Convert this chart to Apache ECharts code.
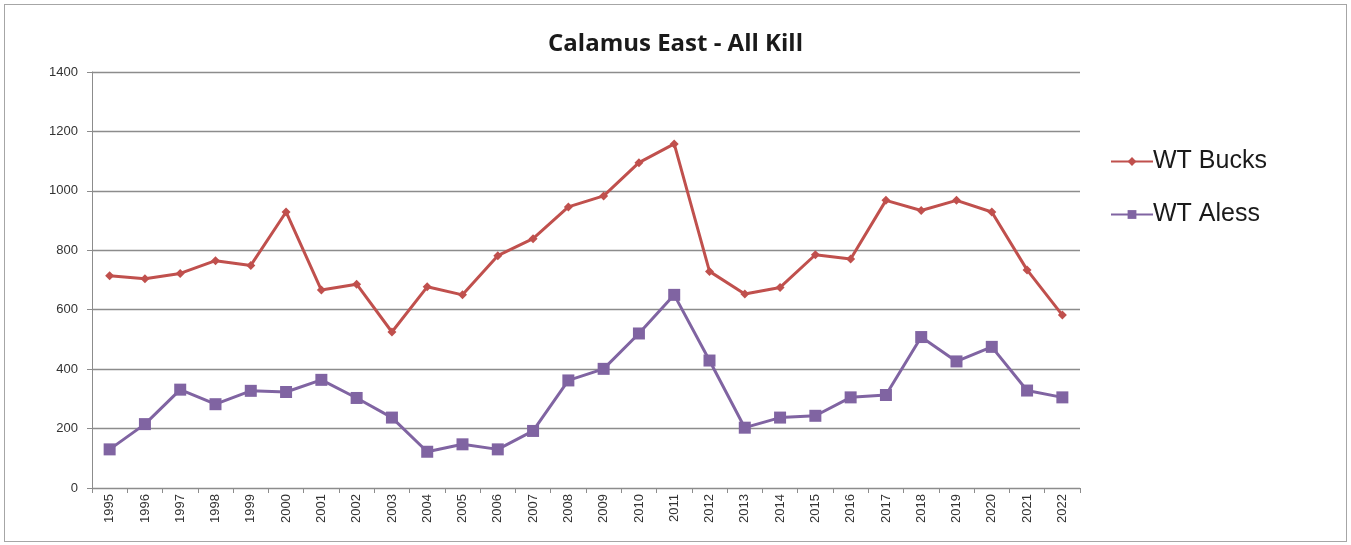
<!DOCTYPE html>
<html>
<head>
<meta charset="utf-8">
<script src="https://cdn.jsdelivr.net/npm/echarts@6/dist/echarts.min.js"></script>
<style>
  html, body { margin: 0; padding: 0; background: #fff; }
  #chart { position: absolute; left: 4px; top: 4px; width: 1341px; height: 536px; border: 1px solid #a6a6a6; }
</style>
</head>
<body>
<div id="chart"></div>
<script>
// years on the category axis
const years = ['1995','1996','1997','1998','1999','2000','2001','2002','2003','2004','2005','2006','2007','2008',
  '2009','2010','2011','2012','2013','2014','2015','2016','2017','2018','2019','2020','2021','2022'];
// WT Bucks kill
const wtBucks = [714, 704, 722, 765, 749, 929, 666, 686, 525, 677, 650, 782, 839, 946,
  983, 1095, 1158, 729, 653, 675, 785, 771, 968, 934, 968, 929, 734, 582];
// WT Aless kill
const wtAless = [130, 215, 331, 282, 327, 323, 364, 303, 237, 122, 147, 130, 192, 362,
  401, 520, 650, 429, 203, 237, 243, 305, 313, 508, 426, 475, 328, 305];
const yTicks = [0, 1400, 200]; // min, max, step

const chart = echarts.init(document.getElementById('chart'));
const font = "'Liberation Sans', Arial, sans-serif";

chart.setOption({
  animation: false,
  title: {
    text: 'Calamus East - All Kill',
    left: 'center',
    top: 22,
    textStyle: { fontFamily: "'Open Sans', sans-serif", fontSize: 24, fontWeight: 'bold', color: '#1a1a1a' }
  },
  legend: {
    orient: 'vertical',
    left: 1100,
    top: 139,
    itemGap: 28,
    itemWidth: 42,
    itemHeight: 11,
    textStyle: { fontFamily: font, fontSize: 25, color: '#1a1a1a', padding: [0, 0, 0, -5] },
    data: ['WT Bucks', 'WT Aless']
  },
  grid: { left: 87, right: 266, top: 67, bottom: 53, containLabel: false },
  xAxis: {
    type: 'category',
    data: years,
    boundaryGap: true,
    axisLine: { lineStyle: { color: '#8c8c8c', width: 1 } },
    axisTick: { show: true, alignWithLabel: false, length: 5, lineStyle: { color: '#8c8c8c' } },
    axisLabel: { rotate: 90, fontFamily: font, fontSize: 13, color: '#333', margin: 6 }
  },
  yAxis: {
    type: 'value',
    min: yTicks[0],
    max: yTicks[1],
    interval: yTicks[2],
    axisLine: { show: true, lineStyle: { color: '#8c8c8c', width: 1 } },
    axisTick: { show: true, length: 5, lineStyle: { color: '#8c8c8c' } },
    axisLabel: { fontFamily: font, fontSize: 13, color: '#333', margin: 14, formatter: v => String(v) },
    splitLine: { lineStyle: { color: '#8c8c8c', width: 1.3 } }
  },
  series: [
    {
      name: 'WT Bucks',
      type: 'line',
      data: wtBucks,
      symbol: 'diamond',
      symbolSize: 9,
      color: '#c0504d',
      lineStyle: { width: 3 },
      itemStyle: { color: '#c0504d' }
    },
    {
      name: 'WT Aless',
      type: 'line',
      data: wtAless,
      symbol: 'rect',
      symbolSize: 12,
      color: '#8064a2',
      lineStyle: { width: 3 },
      itemStyle: { color: '#8064a2' }
    }
  ]
});
</script>
</body>
</html>
